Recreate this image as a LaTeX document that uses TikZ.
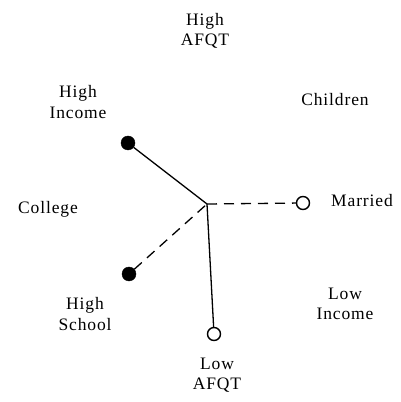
\documentclass[tikz,border=0pt]{standalone}
\usepackage{fontspec}
\setmainfont[LetterSpace=5]{Liberation Serif}
\begin{document}
\begin{tikzpicture}[x=1pt,y=1pt,
  lbl/.style={align=center,font=\fontsize{17.5}{20.5}\selectfont,inner sep=0pt},
  fulldot/.style={circle,fill=black,draw=black,minimum size=14pt,inner sep=0pt},
  opendot/.style={circle,fill=white,draw=black,line width=1.4pt,minimum size=13pt,inner sep=0pt},
  solidlink/.style={line width=1.3pt},
  dashlink/.style={line width=1.3pt,dash pattern=on 10pt off 7pt}]
\useasboundingbox (0,0) rectangle (400,402);
% hub where the four arms meet
\coordinate (hub) at (207,198);
% arm ends
\node[fulldot] (hinc) at (128,259) {};
\node[fulldot] (hsch) at (129,128) {};
\node[opendot] (marr) at (303,199) {};
\node[opendot] (lafqt) at (214,68) {};
% arms
\draw[solidlink] (hinc) -- (hub);
\draw[solidlink] (hub) -- (lafqt);
\draw[dashlink] (hsch) -- (hub);
\draw[dashlink] (hub) -- (marr);
% category labels
\node[lbl] (tHA) at (205,371) {High\\AFQT};
\node[lbl] (tHI) at (78,300) {High\\Income};
\node[lbl] (tCh) at (335,302) {Children};
\node[lbl] (tCo) at (48,193) {College};
\node[lbl] (tMa) at (362,201) {Married};
\node[lbl] (tHS) at (85,88) {High\\School};
\node[lbl] (tLI) at (345,98) {Low\\Income};
\node[lbl] (tLA) at (217,27) {Low\\AFQT};
\end{tikzpicture}
\end{document}
